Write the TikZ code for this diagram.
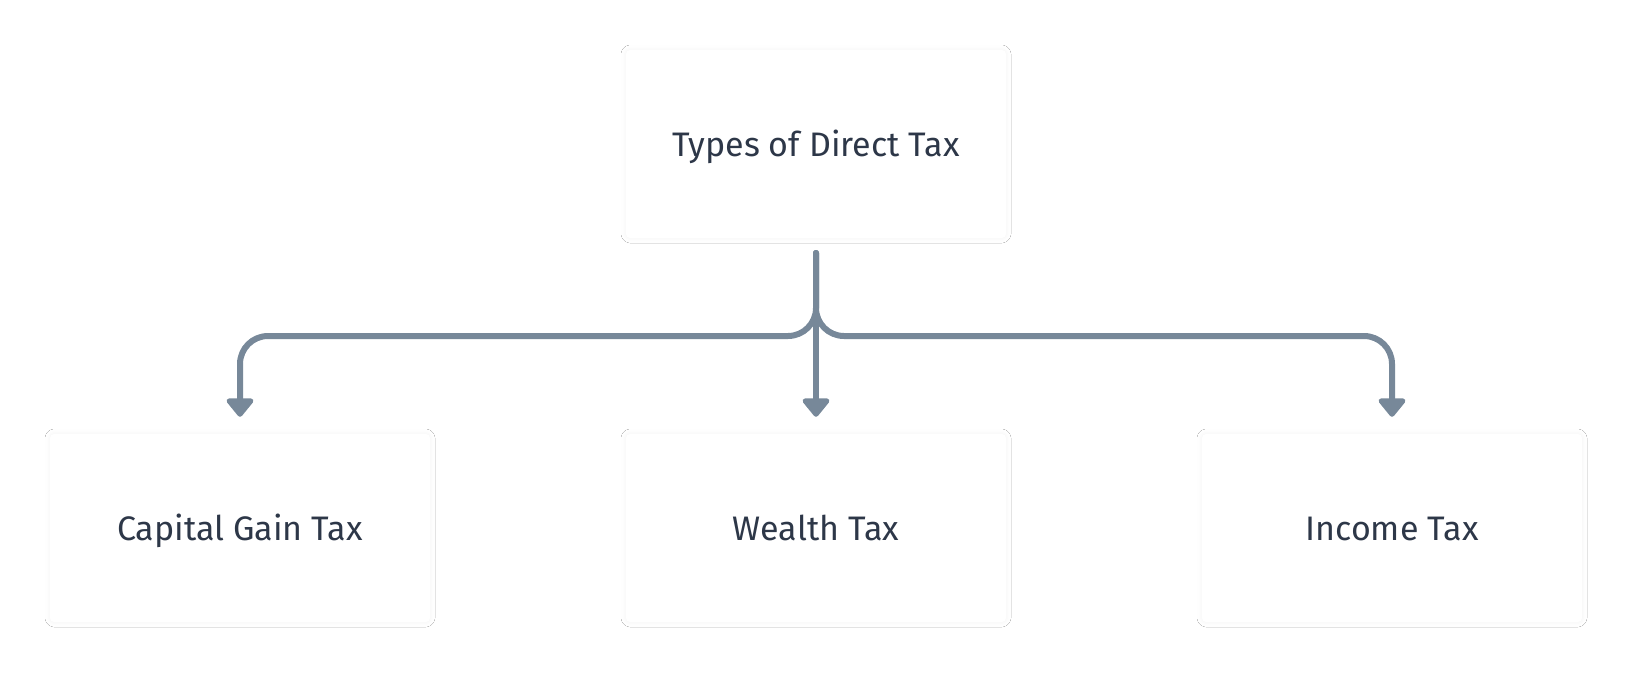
\documentclass[tikz,border=0pt]{standalone}
\usepackage{fontspec}
\setmainfont{Fira Sans}
\usetikzlibrary{arrows.meta,shadows.blur}
\definecolor{linec}{HTML}{778899}
\definecolor{textc}{HTML}{2D3748}
\tikzset{
  taxbox/.style={draw=none, fill=white, rounded corners=4pt, minimum width=380pt, minimum height=188pt,
    inner sep=0pt, text=textc, font=\fontsize{34}{40}\selectfont, text height=24.5pt, text depth=0pt,
    blur shadow={shadow xshift=0pt, shadow yshift=0pt, shadow blur radius=5pt, shadow opacity=5}},
  conn/.style={draw=linec, line width=6pt, line cap=round, rounded corners=28pt,
    -{Triangle[width=31pt,length=20pt,round]}}
}
\begin{document}
\begin{tikzpicture}[x=1pt,y=-1pt]
\useasboundingbox (0,0) rectangle (1632,672);
\fill[white] (0,0) rectangle (1632,672);
\node[taxbox] (top) at (816,144) {Types of Direct Tax};
\node[taxbox] (cg) at (240,528) {Capital Gain Tax};
\node[taxbox] (wt) at (816,528) {Wealth Tax};
\node[taxbox] (it) at (1392,528) {Income Tax};
\coordinate (start) at (816,253);
\coordinate (mid) at (816,336);
\draw[conn] (start) -- (mid) -| ([yshift=17pt]cg.north);
\draw[conn] (start) -- (mid) -| ([yshift=17pt]it.north);
\draw[conn] (start) -- ([yshift=17pt]wt.north);
\end{tikzpicture}
\end{document}
